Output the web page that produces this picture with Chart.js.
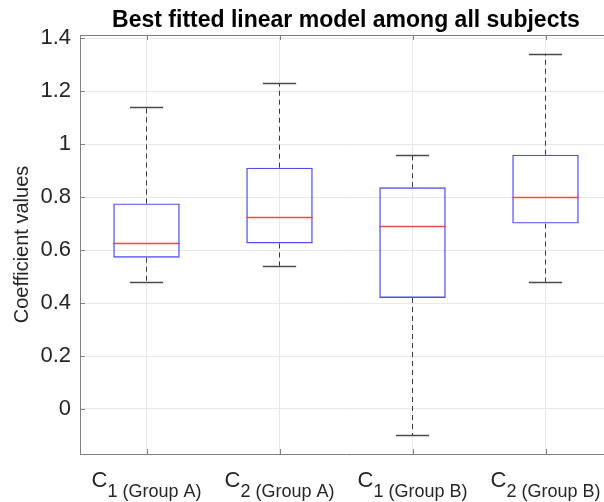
<!DOCTYPE html>
<html>
<head>
<meta charset="utf-8">
<script src="https://cdn.jsdelivr.net/npm/chart.js@4"></script>
<style>
  html,body{margin:0;padding:0;background:#fff;overflow:hidden;}
  #wrap{width:616px;height:502px;}
</style>
</head>
<body>
<div id="wrap"><canvas id="ch" width="616" height="502"></canvas></div>
<script>
// box plot data
const categories  = ['C1 (Group A)','C2 (Group A)','C1 (Group B)','C2 (Group B)'];
const labelMain   = ['C','C','C','C'];
const labelSub    = ['1 (Group A)','2 (Group A)','1 (Group B)','2 (Group B)'];
const whiskerLow  = [0.48, 0.54, -0.10, 0.48];
const q1          = [0.571, 0.625, 0.419, 0.700];
const median      = [0.627, 0.726, 0.690, 0.801];
const q3          = [0.776, 0.911, 0.837, 0.960];
const whiskerHigh = [1.141, 1.230, 0.960, 1.341];
const yTicks      = [0, 0.2, 0.4, 0.6, 0.8, 1, 1.2, 1.4];

const FONT = '"Liberation Sans", Arial, Helvetica, sans-serif';
const TITLE = 'Best fitted linear model among all subjects';

/* ===== plugin: whiskers, medians, inward ticks, title, x labels ===== */
const boxExtras = {
  id:'boxExtras',
  afterDatasetsDraw(chart){
    const {ctx, chartArea:a, scales:{x,y}} = chart;
    const bars = chart.getDatasetMeta(0).data;
    ctx.save();
    bars.forEach((b,i)=>{
      const cx = b.x, half = b.width/2, cap = b.width/4;
      // dashed whiskers
      ctx.strokeStyle='#3a3a3a'; ctx.lineWidth=1; ctx.setLineDash([5,4]);
      ctx.beginPath();
      ctx.moveTo(cx, y.getPixelForValue(q3[i])); ctx.lineTo(cx, y.getPixelForValue(whiskerHigh[i]));
      ctx.moveTo(cx, y.getPixelForValue(q1[i])); ctx.lineTo(cx, y.getPixelForValue(whiskerLow[i]));
      ctx.stroke();
      ctx.setLineDash([]);
      // caps
      ctx.strokeStyle='#4a4a4a'; ctx.lineWidth=1.3;
      ctx.beginPath();
      [whiskerHigh[i], whiskerLow[i]].forEach(v=>{ const py=Math.round(y.getPixelForValue(v))+0.5; ctx.moveTo(cx-cap,py); ctx.lineTo(cx+cap,py); });
      ctx.stroke();
      // median
      ctx.strokeStyle='#ee4a4a'; ctx.lineWidth=1.3;
      ctx.beginPath();
      const pm = Math.round(y.getPixelForValue(median[i]))+0.5;
      ctx.moveTo(cx-half,pm); ctx.lineTo(cx+half,pm); ctx.stroke();
    });
    // top border + inward ticks
    ctx.strokeStyle='#808080'; ctx.lineWidth=1;
    ctx.beginPath();
    ctx.moveTo(a.left, a.top+0.5); ctx.lineTo(a.right, a.top+0.5);
    yTicks.forEach(v=>{ const py=Math.round(y.getPixelForValue(v))+0.5; ctx.moveTo(a.left,py); ctx.lineTo(a.left+5,py); });
    categories.forEach((c,i)=>{ const px=Math.round(x.getPixelForValue(i))+0.5;
      ctx.moveTo(px,a.top); ctx.lineTo(px,a.top+5); ctx.moveTo(px,a.bottom); ctx.lineTo(px,a.bottom-5); });
    ctx.stroke();
    // title (centred over the axes)
    ctx.fillStyle='#000'; ctx.font='bold 23px '+FONT; ctx.textAlign='center'; ctx.textBaseline='alphabetic';
    ctx.fillText(TITLE, (a.left+a.right)/2, 27);
    // x labels with subscripts
    ctx.fillStyle='#262626'; ctx.textAlign='left';
    categories.forEach((c,i)=>{
      const px = x.getPixelForValue(i);
      ctx.font='22px '+FONT; const w1=ctx.measureText(labelMain[i]).width;
      ctx.font='18px '+FONT; const w2=ctx.measureText(labelSub[i]).width;
      const x0 = px-(w1+w2)/2;
      ctx.font='22px '+FONT; ctx.fillText(labelMain[i], x0, 487);
      ctx.font='18px '+FONT; ctx.fillText(labelSub[i], x0+w1, 497);
    });
    ctx.restore();
  }
};

new Chart(document.getElementById('ch'),{
  type:'bar',
  data:{
    labels:categories,
    datasets:[{
      data: q1.map((v,i)=>[v,q3[i]]),
      backgroundColor:'rgba(0,0,0,0)',
      borderColor:'#4f4ff0',
      borderWidth:1.4,
      borderSkipped:false,
      barPercentage:0.5,
      categoryPercentage:1
    }]
  },
  options:{
    responsive:false, animation:false,
    layout:{padding:{top:35,right:4,left:0,bottom:0}},
    plugins:{legend:{display:false}, tooltip:{enabled:false}, title:{display:false}},
    scales:{
      x:{
        offset:true,
        grid:{offset:false, color:'#e8e8e8', drawTicks:false},
        border:{display:true, color:'#808080', width:1},
        ticks:{display:false},
        afterFit(s){ s.height=48; }
      },
      y:{
        min:-0.17, max:1.412,
        afterBuildTicks(s){ s.ticks = yTicks.map(v=>({value:v})); },
        grid:{color:'#e8e8e8', drawTicks:false},
        border:{display:true, color:'#808080', width:1},
        ticks:{
          color:'#262626', padding:9,
          font:{family:FONT, size:22},
          callback:v=> String(Number(v.toFixed(1)))
        },
        title:{display:true, text:'Coefficient values', color:'#262626',
          font:{family:FONT, size:20}, padding:{top:10,bottom:4}},
        afterFit(s){ s.width=80; }
      }
    }
  },
  plugins:[boxExtras]
});
</script>
</body>
</html>
